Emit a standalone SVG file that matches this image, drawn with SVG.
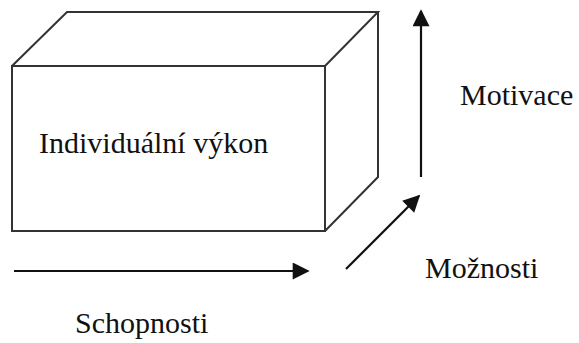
<svg xmlns="http://www.w3.org/2000/svg" width="579" height="343" viewBox="0 0 579 343">
<style>
.edge{fill:none;stroke:#333;stroke-width:2;stroke-linejoin:miter}
.conn{fill:none;stroke:#111;stroke-width:2.2}
.lbl{font-family:"Liberation Serif","Times New Roman",serif;font-size:30px;fill:#111}
</style>
<defs>
<marker id="ahL" viewBox="0 0 10 10" refX="9" refY="5" markerWidth="19" markerHeight="17" markerUnits="userSpaceOnUse" orient="auto">
<path d="M0,0 L10,5 L0,10 z" fill="#111"/>
</marker>
</defs>
<rect width="579" height="343" fill="#fff"/>
<g id="box">
<polygon class="edge" points="12,66 325,66 325,231 12,231"/>
<polyline class="edge" points="12,66 67,12 378,12 325,66"/>
<polyline class="edge" points="378,12 378,177 325,231"/>
<text class="lbl" x="39" y="153">Individuální výkon</text>
</g>
<g id="connectors">
<line class="conn" x1="421" y1="177" x2="421" y2="11" marker-end="url(#ahL)"/>
<line class="conn" x1="346" y1="269" x2="419" y2="196" marker-end="url(#ahL)"/>
<line class="conn" x1="14" y1="271" x2="308" y2="271" marker-end="url(#ahL)"/>
</g>
<g id="motivace"><text class="lbl" x="460" y="105">Motivace</text></g>
<g id="moznosti"><text class="lbl" x="425" y="278">Možnosti</text></g>
<g id="schopnosti"><text class="lbl" x="75" y="333">Schopnosti</text></g>
</svg>
